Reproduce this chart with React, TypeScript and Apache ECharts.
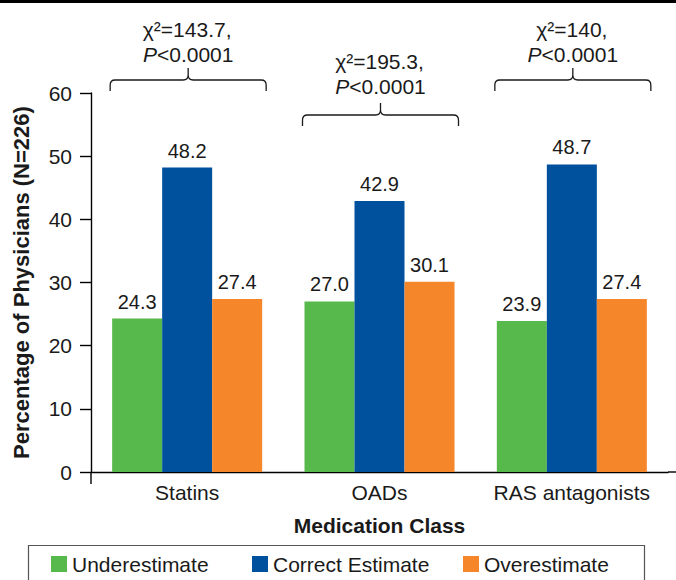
import React, { useEffect, useRef } from "react";
import * as echarts from "echarts";

const categories = ["Statins", "OADs", "RAS antagonists"];
const underestimate = [24.3, 27.0, 23.9];
const correctEstimate = [48.2, 42.9, 48.7];
const overestimate = [27.4, 30.1, 27.4];
const seriesNames = ["Underestimate", "Correct Estimate", "Overestimate"];
const chiLabels = ["χ²=143.7,", "χ²=195.3,", "χ²=140,"];
const pValueLabels = ["<0.0001", "<0.0001", "<0.0001"];
const yTicks = { min: 0, max: 60, interval: 10 };

const COLORS = ["#57B84B", "#00519D", "#F5862A"];
const FONT = "'Liberation Sans', Arial, Helvetica, sans-serif";
const TEXT = "#1a1a1a";

const BRACKET_D =
  "M0,23 L0,17 Q0,12 5,12 L73,12 Q78,12 78,7 L78,0 M78,7 Q78,12 83,12 L151,12 Q156,12 156,17 L156,23";
echarts.graphic.registerShape("bracket", echarts.graphic.extendPath(BRACKET_D, {}) as any);

const GRID = { left: 91, right: 8, top: 93, bottom: 108 };
const W = 676;
const H = 580;

export default function App() {
  const ref = useRef<HTMLDivElement>(null);
  useEffect(() => {
    if (!ref.current) return;
    const chart = echarts.init(ref.current, null, { renderer: "svg" });
    const plotW = W - GRID.left - GRID.right;
    const catW = plotW / categories.length;
    const centers = categories.map((_, i) => GRID.left + (i + 0.5) * catW + 1);
    const bracketPeak = [68, 103, 68];
    const line1Y = [29, 61, 29];
    const line2Y = [54, 86, 54];
    const axisY = H - GRID.bottom;

    const graphics: any[] = [
      { type: "rect", shape: { x: 0, y: 0, width: W, height: 3 }, style: { fill: "#000" } },
      {
        type: "rect",
        shape: { x: 28.5, y: 545.5, width: 616, height: 40 },
        style: { fill: "none", stroke: "#555", lineWidth: 1.2 },
      },
      {
        type: "line",
        shape: { x1: GRID.left, y1: axisY, x2: GRID.left, y2: axisY + 12 },
        style: { stroke: "#000", lineWidth: 1.4 },
      },
      {
        type: "line",
        shape: { x1: W - GRID.right, y1: axisY, x2: W, y2: axisY },
        style: { stroke: "#000", lineWidth: 1.4 },
      },
    ];
    centers.forEach((cx, i) => {
      graphics.push({
        type: "bracket",
        x: cx - 78,
        y: bracketPeak[i],
        style: { fill: "none", stroke: TEXT, lineWidth: 1.3 },
      });
      graphics.push({
        type: "text",
        x: cx - 1,
        y: line1Y[i],
        style: {
          text: chiLabels[i],
          fontFamily: FONT,
          fontSize: 21,
          fill: TEXT,
          textAlign: "center",
          textVerticalAlign: "middle",
        },
      });
      graphics.push({
        type: "text",
        x: cx,
        y: line2Y[i],
        style: {
          text: "{i|P}{n|" + pValueLabels[i] + "}",
          fontFamily: FONT,
          fontSize: 21,
          fill: TEXT,
          textAlign: "center",
          textVerticalAlign: "middle",
          rich: {
            i: { fontStyle: "italic", fontFamily: FONT, fontSize: 21, fill: TEXT },
            n: { fontFamily: FONT, fontSize: 21, fill: TEXT },
          },
        },
      });
    });

    const data = [underestimate, correctEstimate, overestimate];
    const legendLefts = [51, 252, 463];

    chart.setOption({
      animation: false,
      textStyle: { fontFamily: FONT },
      grid: { ...GRID, containLabel: false, outerBoundsMode: "none" },
      legend: seriesNames.map((n, i) => ({
        data: [n],
        left: legendLefts[i],
        top: 552,
        padding: 0,
        icon: "rect",
        itemWidth: 16,
        itemHeight: 16,
        itemGap: 5,
        selectedMode: false,
        textStyle: { fontFamily: FONT, fontSize: 21, color: TEXT, lineHeight: 24 },
      })),
      xAxis: {
        type: "category",
        data: categories,
        axisLine: { show: true, lineStyle: { color: "#000", width: 1.4 } },
        axisTick: { show: false },
        axisLabel: { fontFamily: FONT, fontSize: 21, color: TEXT, margin: 10, interval: 0 },
        name: "Medication Class",
        nameLocation: "middle",
        nameGap: 43,
        nameTextStyle: { fontFamily: FONT, fontSize: 21, fontWeight: "bold", color: TEXT },
      },
      yAxis: {
        type: "value",
        min: yTicks.min,
        max: yTicks.max,
        interval: yTicks.interval,
        splitLine: { show: false },
        axisLine: { show: true, lineStyle: { color: "#000", width: 1.4 } },
        axisTick: { show: true, length: 11, lineStyle: { color: "#000", width: 1.4 } },
        axisLabel: { fontFamily: FONT, fontSize: 21, color: TEXT, margin: 19 },
        name: "Percentage of Physicians (N=226)",
        nameLocation: "middle",
        nameRotate: 90,
        nameGap: 59,
        nameTextStyle: { fontFamily: FONT, fontSize: 22, fontWeight: "bold", color: TEXT },
      },
      series: seriesNames.map((n, i) => ({
        name: n,
        type: "bar",
        data: data[i],
        barWidth: 50,
        barGap: "0%",
        itemStyle: { color: COLORS[i] },
        label: {
          show: true,
          position: "top",
          distance: 7,
          fontFamily: FONT,
          fontSize: 20,
          color: TEXT,
          formatter: (p: any) => Number(p.value).toFixed(1),
        },
      })),
      graphic: graphics,
    });
    return () => chart.dispose();
  }, []);
  return (
    <div
      ref={ref}
      style={{ position: "fixed", left: 0, top: 0, width: W, height: H, background: "#fff" }}
    />
  );
}
